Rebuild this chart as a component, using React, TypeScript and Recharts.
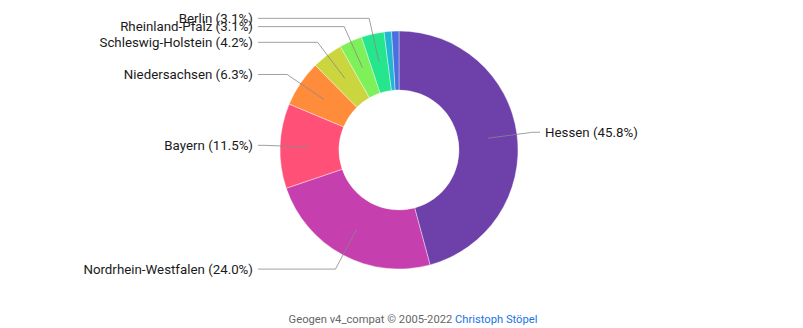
import React from "react";
import { PieChart, Pie, Cell } from "recharts";

// Anteile nach Bundesland (im Uhrzeigersinn ab 12 Uhr)
const laender = [
  "Hessen",
  "Nordrhein-Westfalen",
  "Bayern",
  "Niedersachsen",
  "Schleswig-Holstein",
  "Rheinland-Pfalz",
  "Berlin",
  "",
  "",
];
const anteile = [45.8, 24.0, 11.5, 6.3, 4.2, 3.1, 3.1, 1.0, 1.0];
const farben = [
  "#6e40aa",
  "#c53fae",
  "#ff5177",
  "#ff8c3a",
  "#cbd63f",
  "#7ef05a",
  "#25e68c",
  "#20b8d0",
  "#4a6fe0",
];

const data = laender.map((name, i) => ({ name, value: anteile[i], color: farben[i] }));

const RAD = Math.PI / 180;

const renderLabel = (props: any) => {
  const { cx, cy, midAngle, index } = props;
  const d = data[index];
  if (!d || !d.name) return null;
  const cos = Math.cos(-midAngle * RAD);
  const sin = Math.sin(-midAngle * RAD);
  const x0 = cx + 90 * cos;
  const y0 = cy + 90 * sin;
  const x1 = cx + 135 * cos;
  const y1 = cy + 135 * sin;
  const right = cos >= 0;
  const x2 = right ? cx + 141 : cx - 141;
  const tx = right ? cx + 146 : cx - 146;
  return (
    <g>
      <polyline
        points={`${x0},${y0} ${x1},${y1} ${x2},${y1}`}
        fill="none"
        stroke="#888"
        strokeOpacity={0.8}
        strokeWidth={1}
      />
      <text
        x={tx}
        y={y1}
        textAnchor={right ? "start" : "end"}
        dominantBaseline="central"
        fill="#1a1a1a"
        fontSize={13.3}
        fontFamily="Roboto, sans-serif"
      >
        {`${d.name} (${d.value.toFixed(1)}%)`}
      </text>
    </g>
  );
};

export default function App() {
  return (
    <div style={{ position: "absolute", left: 0, top: 0, width: 803, height: 328, background: "#fff" }}>
      <PieChart width={803} height={300} margin={{ top: 0, right: 0, bottom: 0, left: 0 }}>
        <Pie
          data={data}
          dataKey="value"
          cx={399}
          cy={150}
          innerRadius={60}
          outerRadius={119}
          startAngle={90}
          endAngle={-270}
          stroke="#fff"
          strokeWidth={0.4}
          label={renderLabel}
          labelLine={false}
          isAnimationActive={false}
        >
          {data.map((d, i) => (
            <Cell key={`cell-${i}`} fill={d.color} />
          ))}
        </Pie>
      </PieChart>
      <div
        style={{
          position: "absolute",
          left: 0,
          width: 803,
          top: 313,
          textAlign: "center",
          fontFamily: "Roboto, sans-serif",
          fontSize: 11.2,
          color: "#666",
          paddingLeft: 23,
          boxSizing: "border-box",
        }}
      >
        Geogen v4_compat © 2005-2022 <span style={{ color: "#1a73e8" }}>Christoph Stöpel</span>
      </div>
    </div>
  );
}
